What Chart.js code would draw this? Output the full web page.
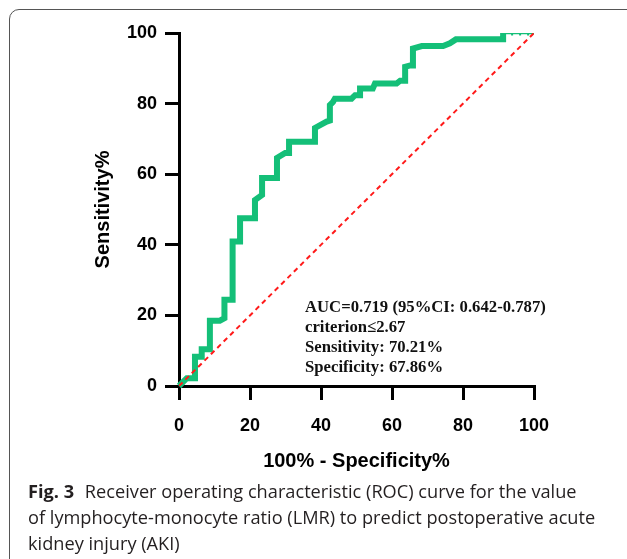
<!DOCTYPE html>
<html>
<head>
<meta charset="utf-8">
<script src="https://cdn.jsdelivr.net/npm/chart.js@4.4.0/dist/chart.umd.min.js"></script>
<style>
  html, body { margin: 0; padding: 0; background: #fff; }
  body { width: 627px; height: 559px; position: relative; overflow: hidden; }
  #frame { position: absolute; left: 9px; top: 9px; width: 700px; height: 700px;
           border: 1px solid #555; border-radius: 10px; box-sizing: border-box; }
  #wrap { position: absolute; left: 0; top: 0; width: 627px; height: 480px; }
  #note { position: absolute; left: 305px; top: 297px; font-family: 'Liberation Serif', 'Times New Roman', serif;
          font-weight: bold; font-size: 16.7px; line-height: 20px; color: #111; white-space: nowrap; }
  #caption { position: absolute; left: 28px; top: 478px; font-family: 'Open Sans', sans-serif;
             font-size: 18.2px; line-height: 26px; color: #231f20; white-space: nowrap; }
  #caption b { font-weight: bold; margin-right: 6px; }
</style>
</head>
<body>
<div id="frame"></div>
<div id="wrap"><canvas id="roc" width="627" height="480"></canvas></div>
<div id="note"></div>
<div id="caption"><b>Fig. 3</b> Receiver operating characteristic (ROC) curve for the value<br>of lymphocyte-monocyte ratio (LMR) to predict postoperative acute<br>kidney injury (AKI)</div>
<script>
// ROC curve (100% - specificity, sensitivity)
const fpr = [0, 2.2, 4.5, 4.5, 6.4, 6.4, 8.7, 8.7, 11.5, 12.8, 12.8, 15.1, 15.1, 17.2, 17.2, 21.4, 21.4, 23.4, 23.4, 27.6,
  27.6, 29.9, 31.0, 31.0, 38.3, 38.3, 41.6, 42.5, 42.5, 43.4, 43.9, 48.6, 49.6, 51.0, 51.0, 54.6, 55.2, 61.3, 62.3, 63.7,
  63.7, 65.1, 65.9, 65.9, 68.4, 74.4, 76.3, 78.0, 91.3, 91.3];
const tpr = [0, 2.2, 2.2, 8.3, 8.3, 10.4, 10.4, 18.5, 18.5, 19.2, 24.4, 24.4, 40.9, 40.9, 47.5, 47.5, 52.7, 54.1, 58.9, 58.9,
  64.6, 66.0, 66.0, 69.2, 69.2, 73.1, 74.9, 75.2, 79.6, 80.5, 81.4, 81.4, 82.4, 82.4, 84.3, 84.3, 85.7, 85.7, 86.5, 86.5,
  90.4, 90.8, 90.8, 95.6, 96.3, 96.3, 97.1, 98.2, 98.2, 100];
const tailX = [91.3, 100];
const tailY = [100, 100];
const refX = [0, 100];
const refY = [0, 100];
const ticks = [0, 20, 40, 60, 80, 100];
const noteLines = ['AUC=0.719 (95%CI: 0.642-0.787)', 'criterion\u22642.67', 'Sensitivity: 70.21%', 'Specificity: 67.86%'];

document.getElementById('note').innerHTML = noteLines.join('<br>');

const toPoints = (xs, ys) => xs.map((x, i) => ({ x: x, y: ys[i] }));
const green = '#14bf78';
const tickFont = { family: "'Liberation Sans', Arial, sans-serif", size: 18, weight: 'bold' };
const titleFont = { family: "'Liberation Sans', Arial, sans-serif", size: 20, weight: 'bold' };

const axis = (title, pad, titlePad, fit) => ({
  type: 'linear',
  min: 0,
  max: 100,
  afterBuildTicks: (scale) => { scale.ticks = ticks.map(v => ({ value: v })); },
  afterFit: fit,
  ticks: { color: '#000', font: tickFont, padding: pad, maxRotation: 0 },
  grid: { drawOnChartArea: false, drawTicks: true, tickLength: 14, lineWidth: 3, color: '#000' },
  border: { display: true, width: 3, color: '#000' },
  title: { display: true, text: title, color: '#000', font: titleFont, padding: titlePad },
});

new Chart(document.getElementById('roc'), {
  type: 'scatter',
  data: {
    datasets: [
      {
        data: toPoints(refX, refY),
        showLine: true,
        borderColor: '#ff1a1a',
        borderWidth: 2,
        borderDash: [5, 4],
        pointRadius: 0,
      },
      {
        data: toPoints(tailX, tailY),
        showLine: true,
        borderColor: green,
        borderWidth: 2.5,
        pointRadius: 0,
      },
      {
        data: toPoints(tailX, tailY),
        showLine: true,
        borderColor: green,
        borderWidth: 5,
        borderDash: [2, 6],
        pointRadius: 0,
      },
      {
        data: toPoints(fpr, tpr),
        showLine: true,
        borderColor: green,
        borderWidth: 6,
        pointRadius: 0,
        clip: false,
      },
    ],
  },
  options: {
    responsive: false,
    animation: false,
    events: [],
    layout: { padding: { left: 0, top: 33, right: 93, bottom: 0 } },
    plugins: { legend: { display: false }, tooltip: { enabled: false } },
    scales: {
      x: axis('100% - Specificity%', 15, { top: 0, bottom: 7 }, (s) => { s.height = 94; }),
      y: axis('Sensitivity%', 8, { top: 91, bottom: 0 }, (s) => { s.width = 179; }),
    },
  },
});
</script>
</body>
</html>
